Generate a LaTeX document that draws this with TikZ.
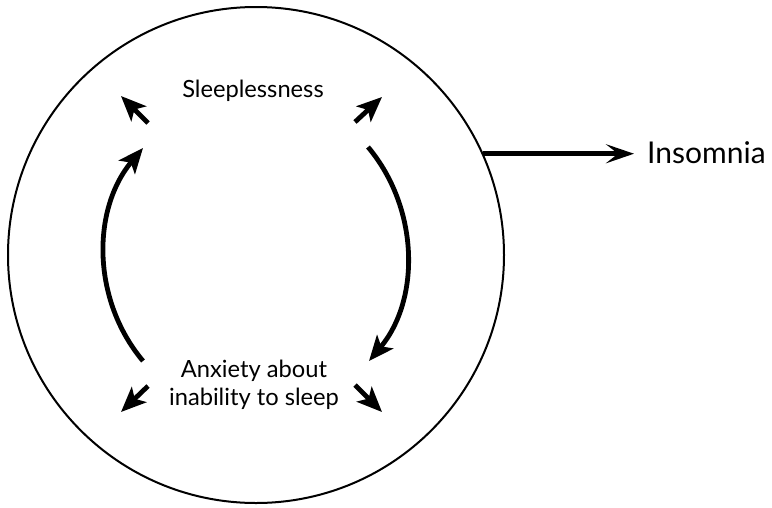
\documentclass[tikz,border=0pt]{standalone}
\usepackage{fontspec}
\setmainfont{Lato}
\usetikzlibrary{arrows.meta}

\tikzset{
  label text/.style={inner sep=0pt, font=\fontsize{23.7}{28}\selectfont},
  cycle arrow/.style={line width=4.8pt, -{Stealth[length=25pt, width=21pt, inset=6pt]}},
  out arrow/.style={line width=4.8pt, -{Stealth[length=28pt, width=19pt, inset=12pt]}},
}

\begin{document}
\begin{tikzpicture}[x=1pt, y=-1pt]
  \useasboundingbox (0,0) rectangle (772,507);

  % the enclosing cycle
  \node (cyc) [draw, circle, line width=2pt, inner sep=0pt, minimum size=496pt] at (256,255) {};

  % the two states of the cycle
  \node (sleep) [label text, anchor=base] at (253,97) {Sleeplessness};
  \node (anx) [label text, align=center] at (254,384.5) {Anxiety about\\inability to sleep};

  % the outcome
  \node (ins) [inner sep=0pt, anchor=base west, font=\fontsize{30}{34}\selectfont] at (647,163) {Insomnia};
  \coordinate (ins-tip) at (634,151);

  % ends of the short radiating arrows
  \coordinate (tl-a) at (148,123); \coordinate (tl-b) at (121,96);
  \coordinate (tr-a) at (355,122); \coordinate (tr-b) at (382,97);
  \coordinate (bl-a) at (148,386); \coordinate (bl-b) at (121,412);
  \coordinate (br-a) at (355,385); \coordinate (br-b) at (382,412);

  % ends of the curved arrows
  \coordinate (l-start) at (143,361); \coordinate (l-end) at (143,148);
  \coordinate (r-start) at (368,147); \coordinate (r-end) at (369,361);

  \draw[cycle arrow] (tl-a) -- (tl-b);
  \draw[cycle arrow] (tr-a) -- (tr-b);
  \draw[cycle arrow] (bl-a) -- (bl-b);
  \draw[cycle arrow] (br-a) -- (br-b);

  % circular arcs bulging outward
  \draw[cycle arrow] (l-start) .. controls (91.6,299.7) and (91.6,209.3) .. (l-end);
  \draw[cycle arrow] (r-start) .. controls (419.4,208.3) and (420.4,299.7) .. (r-end);

  \draw[out arrow] (cyc.24.7) -- (cyc.24.7 -| ins-tip);
\end{tikzpicture}
\end{document}
